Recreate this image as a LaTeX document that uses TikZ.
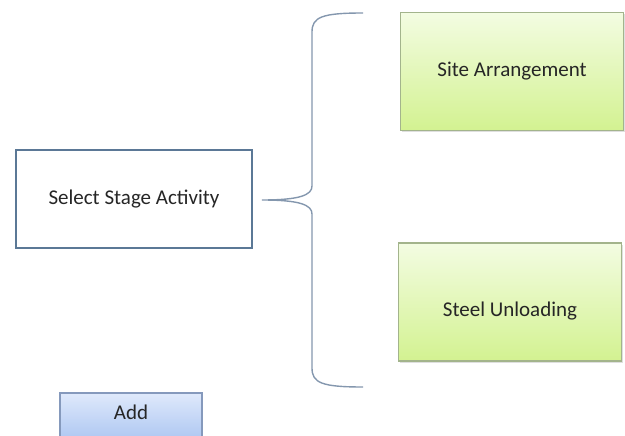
\documentclass[tikz,border=0pt]{standalone}
\usepackage{fontspec}
\setmainfont{Carlito}
\usepackage{tikz}
\usetikzlibrary{shadows}

\definecolor{selline}{HTML}{5B7896}
\definecolor{greenline}{HTML}{A3B48C}
\definecolor{greentop}{HTML}{F3FCE2}
\definecolor{greenbot}{HTML}{D3F291}
\definecolor{bluetop}{HTML}{DFE9FB}
\definecolor{bluebot}{HTML}{A8C3F1}
\definecolor{blueline}{HTML}{8599BC}
\definecolor{braceline}{HTML}{8497AE}

\tikzset{
  every node/.style={font=\fontsize{21}{25}\selectfont, text=black!85},
  selbox/.style={draw=selline, line width=1.6pt, fill=white, minimum width=236, minimum height=98},
  stagebox/.style={draw=greenline, line width=1.2pt, top color=greentop, bottom color=greenbot,
    minimum width=223, minimum height=118, drop shadow={shadow xshift=1.5pt, shadow yshift=-2pt, opacity=0.25}},
  addbox/.style={draw=blueline, line width=1.2pt, top color=bluetop, bottom color=bluebot,
    minimum width=142, minimum height=52}
}

\begin{document}
\begin{tikzpicture}[x=1pt,y=-1pt]

\clip (0,0) rectangle (625,436);
\useasboundingbox (0,0) rectangle (625,436);

\node[selbox] (sel) at (134,199) {Select Stage Activity};
\node[stagebox] (site) at (512,71.5) {Site Arrangement};
\node[stagebox] (steel) at (510,302) {\raisebox{-14pt}[0pt][0pt]{Steel Unloading}};
\node[addbox] (add) at (131,419) {\raisebox{0pt}[0pt][0pt]{Add}};

\coordinate (Btop) at (363,13);
\coordinate (Bbot) at (363,387);
\coordinate (Btip) at (262,200);

% brace
\draw[color=braceline, line width=1.4pt] (Btop) .. controls (322,13) and (312,17) .. (312,32)
  -- (312,186) .. controls (312,195) and (300,200) .. (Btip)
  .. controls (300,200) and (312,205) .. (312,214)
  -- (312,368) .. controls (312,383) and (322,387) .. (Bbot);

\end{tikzpicture}
\end{document}
